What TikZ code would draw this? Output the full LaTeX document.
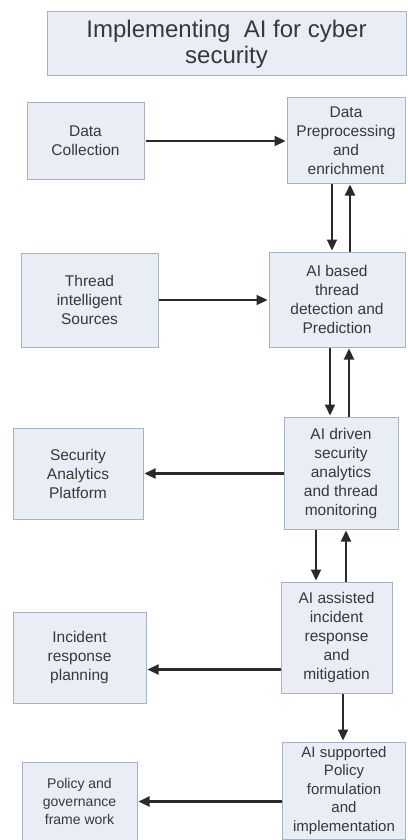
\documentclass[tikz,border=0pt]{standalone}
\usepackage{fontspec}
\setmainfont{Liberation Sans}
\usetikzlibrary{arrows.meta}
\definecolor{boxfill}{HTML}{E8EDF6}
\definecolor{boxline}{HTML}{A9B2C2}
\definecolor{txt}{HTML}{383838}
\definecolor{arr}{HTML}{2A2A2A}
\tikzset{
  box/.style={draw=boxline, fill=boxfill, line width=1pt, align=center,
    text=txt, inner sep=2pt, font=\fontsize{15.5}{19}\selectfont},
  flow/.style={draw=arr, line width=2.2pt, shorten >=1pt,
    -{Triangle[length=11pt,width=10pt]}},
}
\begin{document}
\begin{tikzpicture}[x=1pt,y=-1pt]
\useasboundingbox (0,0) rectangle (407,840);
\fill[white] (0,0) rectangle (407,840);

% title
\node[box, minimum width=359pt, minimum height=64pt,
  font=\fontsize{24}{26}\selectfont] (title) at (226.5,44)
  {Implementing\ \ AI for cyber\\security};

% right column: processing chain
\node[box, minimum width=118pt, minimum height=85pt] (prep) at (346,140.5)
  {Data\\Preprocessing\\and\\enrichment};
\node[box, minimum width=136pt, minimum height=95pt] (detect) at (337,299.5)
  {AI based\\thread\\detection and\\Prediction};
\node[box, minimum width=114pt, minimum height=112pt] (analytics) at (341,473)
  {AI driven\\security\\analytics\\and thread\\monitoring};
\node[box, minimum width=111pt, minimum height=111pt] (incident) at (336.5,637.5)
  {AI assisted\\incident\\response\\and\\mitigation};
\node[box, minimum width=123pt, minimum height=97pt,
  font=\fontsize{15}{18.5}\selectfont] (policy) at (344,790.5)
  {AI supported\\Policy\\formulation\\and\\implementation};

% left column: inputs and outputs
\node[box, minimum width=117pt, minimum height=76pt] (collect) at (85.5,141)
  {Data\\Collection};
\node[box, minimum width=137pt, minimum height=94pt] (sources) at (89.5,300)
  {Thread\\intelligent\\Sources};
\node[box, minimum width=130pt, minimum height=91pt] (platform) at (78,473.5)
  {Security\\Analytics\\Platform};
\node[box, minimum width=133pt, minimum height=91pt] (planning) at (79.5,657.5)
  {Incident\\response\\planning};
\node[box, minimum width=115pt, minimum height=79pt,
  font=\fontsize{14}{18}\selectfont] (govern) at (79.5,801.5)
  {Policy and\\governance\\frame work};

% horizontal connectors
\draw[flow] (collect.east) ++(1,0) -- (prep.west |- collect.east);
\draw[flow] (sources.east) -- (detect.west |- sources.east);
\draw[flow] (analytics.west |- platform.east) -- (platform.east);
\draw[flow] ([yshift=-12pt]incident.west |- planning.east) -- ([yshift=-12pt]planning.east);
\draw[flow] (policy.west |- govern.east) -- (govern.east);

% vertical connectors between stages
\draw[flow] ([xshift=-14pt]prep.south) -- ([xshift=-14pt]prep.south |- detect.north);
\draw[flow] ([xshift=4pt]prep.south |- detect.north) -- ([xshift=4pt]prep.south);
\draw[flow] ([xshift=-7pt]detect.south) -- ([xshift=-7pt]detect.south |- analytics.north);
\draw[flow] ([xshift=12pt]detect.south |- analytics.north) -- ([xshift=12pt]detect.south);
\draw[flow] ([xshift=-25pt]analytics.south) -- ([xshift=-25pt]analytics.south |- incident.north);
\draw[flow] ([xshift=5pt]analytics.south |- incident.north) -- ([xshift=5pt]analytics.south);
\draw[flow] ([xshift=6.5pt]incident.south) -- ([xshift=6.5pt]incident.south |- policy.north);
\end{tikzpicture}
\end{document}
